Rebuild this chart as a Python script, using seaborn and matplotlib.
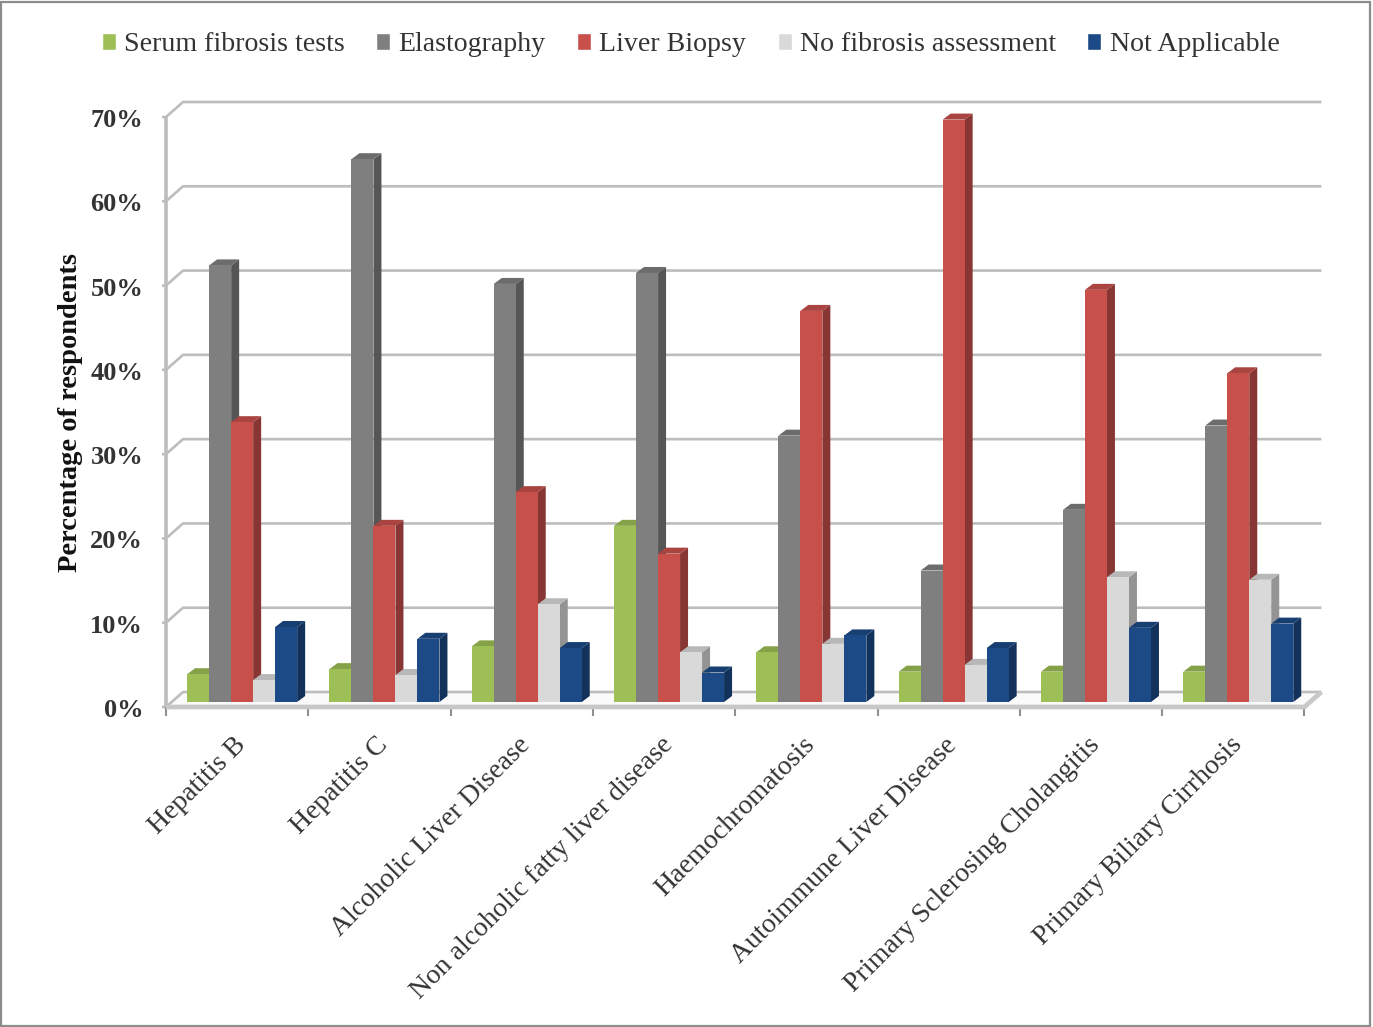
import matplotlib
matplotlib.use("Agg")
import matplotlib.pyplot as plt
from matplotlib.patches import Polygon, Rectangle
from matplotlib.transforms import ScaledTranslation
import numpy as np
import pandas as pd
import seaborn as sns

conditions = ["Hepatitis B", "Hepatitis C", "Alcoholic Liver Disease",
              "Non alcoholic fatty liver disease", "Haemochromatosis",
              "Autoimmune Liver Disease", "Primary Sclerosing Cholangitis",
              "Primary Biliary Cirrhosis"]
methods = ["Serum fibrosis tests", "Elastography", "Liver Biopsy",
           "No fibrosis assessment", "Not Applicable"]
serum = [3.3, 3.9, 6.6, 20.9, 5.9, 3.6, 3.6, 3.6]
elastography = [51.8, 64.4, 49.6, 50.9, 31.6, 15.6, 22.8, 32.8]
biopsy = [33.2, 20.9, 24.9, 17.6, 46.4, 69.1, 48.9, 39.0]
no_assessment = [2.6, 3.2, 11.6, 5.9, 6.9, 4.4, 14.8, 14.5]
not_applicable = [8.9, 7.5, 6.4, 3.5, 7.9, 6.4, 8.8, 9.3]
palette = ["#9DBF55", "#7F7F7F", "#C8504B", "#D9D9D9", "#1C4A86"]
y_ticks = [0, 10, 20, 30, 40, 50, 60, 70]

W, H = 1373, 1027
sns.set_style("white")
plt.rcParams["font.family"] = ["Liberation Serif", "DejaVu Serif"]

long_df = pd.DataFrame({
    "condition": np.repeat(conditions, len(methods)),
    "method": methods * len(conditions),
    "value": np.array([serum, elastography, biopsy, no_assessment,
                       not_applicable]).T.ravel(),
})

fig = plt.figure(figsize=(W / 100, H / 100), dpi=100, facecolor="white")
# The axes hold the front face of the bars; floor and walls sit around them.
left, right, base, top = 171, 1309.4, 702, 112
ax = fig.add_axes([left / W, 1 - base / H, (right - left) / W, (base - top) / H])
sns.barplot(data=long_df, x="condition", y="value", hue="method",
            order=conditions, hue_order=methods, palette=palette,
            saturation=1, width=0.773, gap=0, errorbar=None, ax=ax)
ax.set_xlim(-0.5, 7.5)
ax.set_ylim(0, 70)
ax.patch.set_alpha(0)
sns.despine(ax=ax, left=True, bottom=True)

# Pixel sizes converted to data units, for the oblique projection.
px_x = 8 / (right - left)
px_y = 70 / (base - top)


def project(x, y, dx, dy):
    """Shift a data point by a screen offset in pixels (dy upwards)."""
    return x + dx * px_x, y + dy * px_y


wall = "#BDBDBD"
x0, x1 = -0.5, 7.5
front = (-5, -5)
back = (12, 10)


def wall_line(pts, lw=2.4, color=wall, z=1):
    xs, ys = zip(*pts)
    ax.plot(xs, ys, color=color, lw=lw, clip_on=False, zorder=z,
            solid_capstyle="butt")


# Floor, left wall and the grid on the back wall.
floor = [project(x0, 0, *front), project(x1, 0, *front),
         project(x1, 0, *back), project(x0, 0, *back)]
ax.add_patch(Polygon(floor, closed=True, facecolor="#FAFAFA", edgecolor="none",
                     clip_on=False, zorder=0.5))
for v in y_ticks:
    start = project(x0, v, *front)
    wall_line([project(x0, v, -9, -5), start, project(x0, v, *back),
               project(x1, v, *back)], lw=1.9)
wall_line([project(x0, 0, *front), project(x0, 70, *front)], lw=2.6)
wall_line([project(x0, 0, *front), project(x1, 0, *front),
           project(x1, 0, *back)], lw=3.4, color="#C8C8C8", z=1.5)
for k in range(len(conditions) + 1):
    tick_x = k - 0.5
    wall_line([project(tick_x, 0, -5, -5), project(tick_x, 0, -5, -14)],
              lw=1.5, color="#8F8F8F")

# Depth faces for every bar, darker than the front face.
depth_x, depth_y = 8, 6
for i, container in enumerate(ax.containers):
    rgb = np.array(matplotlib.colors.to_rgb(palette[i]))
    for rect in container:
        xa = rect.get_x()
        xb = xa + rect.get_width()
        h = rect.get_height()
        rect.set_zorder(3 + i)
        rect.set_linewidth(0)
        side = [(xb, 0), project(xb, 0, depth_x, depth_y),
                project(xb, h, depth_x, depth_y), (xb, h)]
        roof = [(xa, h), project(xa, h, depth_x, depth_y),
                project(xb, h, depth_x, depth_y), (xb, h)]
        ax.add_patch(Polygon(side, closed=True, facecolor=rgb * 0.68,
                             edgecolor="none", clip_on=False, zorder=2.5 + i))
        ax.add_patch(Polygon(roof, closed=True, facecolor=rgb * 0.85,
                             edgecolor="none", clip_on=False, zorder=2.5 + i))

ax.set_yticks(y_ticks)
ax.set_yticklabels([f"{v}%" for v in y_ticks], fontsize=19, fontweight="bold",
                   color="#333333")
ax.tick_params(axis="y", length=0, pad=20)
ax.tick_params(axis="x", length=0, pad=22)
ax.set_xticks(range(len(conditions)))
ax.set_xticklabels(conditions, rotation=45, ha="right", rotation_mode="anchor",
                   fontsize=20, color="#333333")
for lab in ax.get_yticklabels():
    lab.set_transform(lab.get_transform() +
                      ScaledTranslation(0, -6 / 100, fig.dpi_scale_trans))
for lab in ax.get_xticklabels():
    lab.set_transform(lab.get_transform() +
                      ScaledTranslation(-9 / 100, 0, fig.dpi_scale_trans))
ax.set_xlabel("")
ax.set_ylabel("Percentage of respondents", fontsize=20.5, fontweight="bold",
              color="#111111")
ax.yaxis.set_label_coords((83 - left) / (right - left), (base - 412) / (base - top))

sns.move_legend(ax, "upper left", bbox_to_anchor=(102 / W, 1 - 32 / H),
                bbox_transform=fig.transFigure, ncol=5, frameon=False,
                title=None, fontsize=20.1, handlelength=0.5, handleheight=0.55,
                handletextpad=0.3, columnspacing=1.12, borderaxespad=0,
                borderpad=0, labelcolor="#333333")

fig.add_artist(Rectangle((1 / W, 1 / H), (W - 4) / W, (H - 3) / H, fill=False,
                         edgecolor="#8C8C8C", lw=1.6,
                         transform=fig.transFigure))
fig.savefig("out.png", dpi=100)
